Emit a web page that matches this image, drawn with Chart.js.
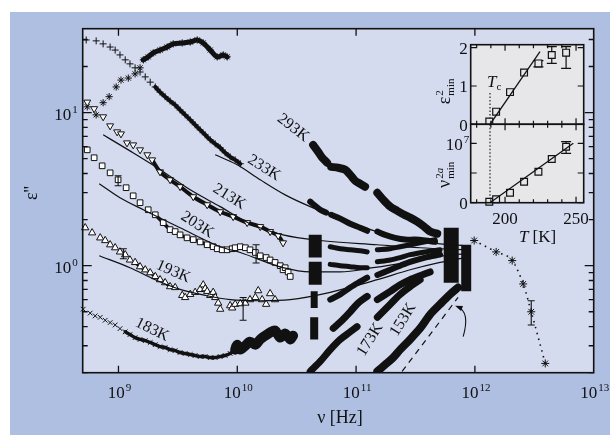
<!DOCTYPE html>
<html>
<head>
<meta charset="utf-8">
<title>dielectric loss spectra</title>
<script src="https://cdn.jsdelivr.net/npm/chart.js@4.4.1/dist/chart.umd.min.js"></script>
<style>
  html, body { margin: 0; padding: 0; background: #fff; }
  #wrap { position: relative; width: 610px; height: 435px; overflow: hidden; }
  #wrap canvas { position: absolute; }
  #mainChart { left: 0; top: 0; }
  #insetTop { left: 420px; top: 36px; }
  #insetBottom { left: 420px; top: 118px; }
</style>
</head>
<body>
<div id="wrap">
  <canvas id="mainChart" width="610" height="435"></canvas>
  <canvas id="insetTop" width="175" height="100"></canvas>
  <canvas id="insetBottom" width="175" height="135"></canvas>
</div>
<script>
// ---------- data (nu in Hz, eps'' dimensionless) ----------

// 183 K, crosses
const nu183 = [5.05e8, 5.78e8, 6.37e8, 7.02e8, 7.73e8, 8.51e8, 9.38e8, 1.03e9, 1.14e9, 1.25e9,
  1.38e9, 1.52e9, 1.68e9, 1.85e9, 2.04e9, 2.24e9, 2.47e9, 2.72e9, 3.0e9, 3.3e9,
  3.64e9, 4.02e9, 4.42e9, 4.87e9, 5.37e9, 5.92e9, 6.52e9, 7.18e9, 7.91e9, 8.71e9,
  9.6e9, 9.98e9, 1.06e10, 1.17e10, 1.28e10, 1.42e10, 1.56e10, 1.72e10, 1.89e10, 2.08e10,
  2.3e10, 2.53e10, 2.79e10, 2.95e10];
const eps183 = [0.52, 0.49, 0.47, 0.46, 0.44, 0.425, 0.41, 0.388, 0.37, 0.355,
  0.339, 0.33, 0.324, 0.315, 0.305, 0.296, 0.292, 0.283, 0.279, 0.271,
  0.267, 0.263, 0.259, 0.255, 0.255, 0.251, 0.251, 0.255, 0.259, 0.267,
  0.283, 0.305, 0.283, 0.301, 0.319, 0.305, 0.33, 0.349, 0.366, 0.377,
  0.339, 0.36, 0.33, 0.349];

// 193 K, up triangles
const nu193 = [5.25e8, 6.0e8, 7.02e8, 7.73e8, 8.51e8, 9.38e8, 1.03e9, 1.14e9, 1.25e9, 1.38e9,
  1.52e9, 1.68e9, 1.85e9, 2.04e9, 2.24e9, 2.47e9, 2.72e9, 3.0e9, 3.44e9, 3.64e9,
  4.02e9, 4.42e9, 4.87e9, 5.17e9, 5.37e9, 5.58e9, 5.92e9, 6.27e9, 6.52e9, 6.91e9,
  7.18e9, 8.71e9, 9.06e9, 9.6e9, 1.06e10, 1.17e10, 1.28e10, 1.42e10, 1.5e10, 1.62e10,
  1.75e10, 1.89e10, 2.08e10];
const eps193 = [1.77, 1.64, 1.52, 1.46, 1.37, 1.31, 1.23, 1.18, 1.09, 1.05,
  0.985, 0.94, 0.90, 0.85, 0.81, 0.775, 0.73, 0.72, 0.64, 0.62,
  0.65, 0.67, 0.70, 0.75, 0.708, 0.68, 0.64, 0.67, 0.62, 0.57,
  0.52, 0.548, 0.53, 0.56, 0.565, 0.57, 0.60, 0.62, 0.687, 0.60,
  0.56, 0.657, 0.60];

// 203 K, squares
const nu203 = [5.46e8, 6.24e8, 7.29e8, 8.51e8, 9.93e8, 1.16e9, 1.33e9, 1.52e9, 1.78e9, 2.04e9,
  2.38e9, 2.72e9, 3.0e9, 3.3e9, 3.78e9, 4.26e9, 4.87e9, 5.58e9, 6.27e9, 6.78e9,
  7.46e9, 8.22e9, 9.06e9, 9.6e9, 1.06e10, 1.17e10, 1.28e10, 1.42e10, 1.56e10, 1.75e10,
  1.89e10, 2.08e10, 2.3e10, 2.43e10, 2.53e10, 2.68e10, 2.79e10];
const eps203 = [5.71, 5.07, 4.49, 4.04, 3.64, 3.23, 2.86, 2.58, 2.32, 2.15,
  1.91, 1.72, 1.67, 1.59, 1.52, 1.48, 1.43, 1.37, 1.33, 1.29,
  1.27, 1.27, 1.29, 1.31, 1.33, 1.31, 1.27, 1.22, 1.16, 1.13,
  1.09, 1.05, 1.0, 0.94, 0.97, 0.91, 0.85];

// 213 K, down triangles
const nu213 = [5.46e8, 6.24e8, 7.43e8, 8.51e8, 9.75e8, 1.05e9, 1.18e9, 1.33e9, 1.52e9, 1.75e9,
  1.92e9, 2.24e9, 2.72e9, 3.3e9, 4.26e9, 5.58e9, 7.18e9, 9.23e9, 1.21e10, 1.56e10,
  1.89e10, 2.21e10, 2.43e10];
const eps213 = [11.7, 10.6, 9.38, 8.19, 7.48, 7.26, 6.34, 6.15, 5.71, 5.30,
  4.91, 4.10, 3.64, 3.28, 2.82, 2.50, 2.25, 2.09, 1.91, 1.80,
  1.67, 1.57, 1.41];

// 233 K, plus signs
const nu233 = [5.35e8, 6.49e8, 7.43e8, 8.51e8, 9.38e8, 1.03e9, 1.14e9, 1.25e9, 1.38e9, 1.52e9,
  1.68e9, 1.85e9, 2.04e9, 2.24e9, 2.47e9, 2.72e9, 3.0e9, 3.3e9, 3.64e9, 4.02e9,
  4.42e9, 4.87e9, 5.37e9, 5.92e9, 6.52e9, 7.18e9, 7.91e9, 8.71e9, 9.6e9, 1.06e10];
const eps233 = [29.8, 29.4, 28.1, 26.8, 25.6, 23.8, 22.1, 20.8, 19.6, 18.4,
  17.1, 15.8, 14.7, 13.6, 12.7, 11.9, 11.2, 10.4, 9.66, 8.96,
  8.32, 7.71, 7.16, 6.64, 6.25, 5.89, 5.46, 5.14, 4.91, 4.63];

// 293 K low-frequency branch, asterisks
const nuStarLow = [5.46e8, 6.49e8, 7.43e8, 8.35e8, 9.57e8, 1.05e9, 1.21e9, 1.38e9, 1.52e9, 1.62e9,
  1.78e9, 1.96e9, 2.24e9, 2.57e9, 2.89e9, 3.44e9, 4.02e9, 4.6e9, 5.17e9, 5.92e9,
  6.78e9, 7.61e9, 8.22e9];
const epsStarLow = [10.9, 9.66, 11.6, 12.7, 14.7, 16.3, 16.8, 17.9, 19.6, 22.1,
  23.1, 24.5, 25.6, 26.8, 28.1, 28.5, 28.9, 29.8, 28.5, 25.6,
  23.1, 23.8, 23.1];

// high-frequency data (dense, drawn as black bands; null = gap between instruments)
const hf293Nu = [4.35e10, 4.8e10, 5.19e10, 5.71e10, null, 6.17e10, 7.07e10, 8.11e10, 8.93e10, 9.85e10,
  1.08e11, 1.19e11, null, 1.51e11, 1.69e11, 1.94e11, 2.22e11, 2.54e11, 2.85e11, 3.27e11,
  3.74e11, 4.2e11, 4.82e11];
const hf293Eps = [6.15, 5.54, 5.07, 4.70, null, 4.42, 4.36, 4.23, 3.92, 3.58,
  3.43, 3.28, null, 2.99, 2.70, 2.43, 2.28, 2.15, 2.06, 1.94,
  1.80, 1.67, 1.62];
const hf233Nu = [4.11e10, 4.53e10, 4.99e10, 5.6e10, null, 6.17e10, 7.36e10, 8.93e10, 1.08e11, 1.24e11,
  null, 1.51e11, 1.76e11, 2.13e11, 2.59e11, 3.14e11, 3.81e11, 4.62e11];
const hf233Eps = [2.62, 2.46, 2.32, 2.22, null, 2.15, 2.03, 1.88, 1.77, 1.69,
  null, 1.67, 1.59, 1.52, 1.48, 1.48, 1.46, 1.43];
const hf213Nu = [6.06e10, 7.36e10, 8.93e10, 1.08e11, 1.24e11, null, 1.51e11, 1.94e11, 2.35e11, 2.85e11, 3.46e11, 4.62e11];
const hf213Eps = [1.33, 1.29, 1.27, 1.25, 1.23, null, 1.27, 1.29, 1.33, 1.37, 1.41, 1.48];
const hf203Nu = [6.06e10, 7.36e10, 8.93e10, 1.08e11, 1.24e11, null, 1.51e11, 1.94e11, 2.35e11, 2.85e11, 3.81e11, 5.09e11];
const hf203Eps = [1.02, 1.0, 0.985, 0.97, 0.97, null, 1.06, 1.09, 1.13, 1.18, 1.23, 1.27];
const hf193Nu = [6.06e10, 7.36e10, 8.93e10, 1.08e11, 1.24e11, null, 1.51e11, 1.94e11, 2.35e11, 2.85e11, 3.81e11, 5.09e11];
const hf193Eps = [0.60, 0.65, 0.72, 0.786, 0.835, null, 0.87, 0.94, 1.0, 1.06, 1.13, 1.18];
const hf183Nu = [6.42e10, 7.64e10, 8.93e10, 1.04e11, 1.24e11, null, 1.51e11, 1.94e11, 2.35e11, 2.85e11, 3.46e11, 4.2e11];
const hf183Eps = [0.39, 0.44, 0.50, 0.57, 0.63, null, 0.60, 0.68, 0.75, 0.81, 0.86, 0.91];
const hf173Nu = [4.11e10, 4.99e10, 6.06e10, 7.36e10, 8.93e10, 1.02e11, null, 1.51e11, 1.94e11, 2.35e11, 2.85e11, 3.46e11];
const hf173Eps = [0.204, 0.237, 0.283, 0.33, 0.37, 0.40, null, 0.46, 0.56, 0.65, 0.73, 0.81];
const hf153Nu = [1.51e11, 1.76e11, 2.05e11, 2.35e11, 2.85e11, 3.46e11, 4.2e11, 5.09e11, 6.18e11, 7.22e11];
const hf153Eps = [0.204, 0.226, 0.251, 0.283, 0.33, 0.39, 0.48, 0.56, 0.65, 0.72];

// clusters where many temperatures overlap at one frequency
const colNu = [4.53e10, 4.53e10, 4.44e10, 4.44e10, 6.32e11, 8.45e11];
const colTop = [1.59, 1.06, 0.68, 0.46, 1.77, 1.37];
const colBottom = [1.13, 0.75, 0.53, 0.33, 0.775, 0.68];

// far-infrared points, asterisks
const nuStarHigh = [9.86e11, 1.51e12, 2.06e12, 2.55e12, 2.98e12, 3.91e12];
const epsStarHigh = [1.46, 1.23, 1.08, 0.76, 0.50, 0.23];

// model fits (solid lines)
const fit233Nu = [6.52e9, 9.98e9, 1.56e10, 2.53e10, 4.11e10, 7.36e10, 1.6e11, 2.85e11, 5.09e11, 8.28e11];
const fit233Eps = [5.30, 4.56, 3.64, 2.90, 2.43, 2.03, 1.64, 1.48, 1.39, 1.35];
const fit213Nu = [7.43e8, 1.25e9, 2.12e9, 4.02e9, 7.18e9, 1.28e10, 2.43e10, 4.99e10, 1.51e11, 3.46e11, 8.28e11];
const fit213Eps = [7.16, 5.62, 4.36, 3.13, 2.43, 1.88, 1.59, 1.46, 1.37, 1.31, 1.27];
const fit203Nu = [6.89e8, 1.03e9, 1.62e9, 3.3e9, 7.18e9, 1.06e10, 2.43e10, 4.11e10, 7.36e10, 1.39e11, 2.85e11, 5.09e11, 8.28e11];
const fit203Eps = [3.43, 2.78, 2.32, 1.77, 1.33, 1.22, 0.97, 0.91, 0.91, 0.97, 1.06, 1.15, 1.20];
const fit193Nu = [6.89e8, 1.25e9, 2.04e9, 3.3e9, 5.37e9, 8.71e9, 1.56e10, 2.79e10, 6.06e10, 1.51e11, 2.85e11, 5.09e11, 8.28e11];
const fit193Eps = [1.16, 0.97, 0.81, 0.70, 0.64, 0.60, 0.59, 0.60, 0.67, 0.81, 0.94, 1.05, 1.13];

// dashed slope line
const dashNu = [2.44e11, 7.22e11];
const dashEps = [0.204, 0.62];

// error bars
const errNu = [9.93e8, 1.1e9, 1.44e10, 1.12e10, 2.98e12];
const errLo = [3.33, 1.11, 1.04, 0.44, 0.41];
const errHi = [3.87, 1.29, 1.37, 0.62, 0.59];

// axis ticks
const xTickVals = [1e9, 1e10, 1e11, 1e12, 1e13];
const xTickExp = ['9', '10', '11', '12', '13'];
const yTickVals = [1, 10];
const yTickExp = ['0', '1'];

// inset: T in K
const insetT = [188.9, 193.7, 203.5, 213.4, 223.5, 232.9, 243.0];
const insetEps2 = [0.07, 0.33, 0.84, 1.35, 1.59, 1.81, 1.87];
const insetNu2a = [1.7e5, 5.7e5, 1.68e6, 3.54e6, 5.22e6, 7.36e6, 9.43e6];
const insetTc = 189.4;
const fitEpsT = [189.4, 224.6];
const fitEpsV = [0, 1.90];
const fitNuT = [189.4, 248.1];
const fitNuV = [0, 1.0e7];
const errEpsT = [223.5, 232.9, 243.0];
const errEpsLo = [1.50, 1.59, 1.46];
const errEpsHi = [1.66, 2.03, 2.03];
const errNuT = [243.0];
const errNuLo = [8.32e6];
const errNuHi = [1.027e7];
const insetTTicks = [180, 190, 200, 210, 220, 230, 240, 250];
const insetTLabels = [200, 250];

// ---------- styling ----------
const INK = '#111111';
const OUTER = '#aebfe1';
const PLOT = '#d4dbef';
const INSET_BG = '#e7e7ea';
const SERIF = '"Liberation Serif", "DejaVu Serif", serif';
const colWidth = [13, 13, 7, 8, 15, 10];

// text annotations placed in data coordinates
const tempLabels = [
  { text: '293K', nu: 2.95e10, eps: 7.95, rot: 38 },
  { text: '233K', nu: 1.68e10, eps: 4.36, rot: 32 },
  { text: '213K', nu: 8.55e9, eps: 2.82, rot: 32 },
  { text: '203K', nu: 4.6e9, eps: 1.85, rot: 33 },
  { text: '193K', nu: 2.89e9, eps: 0.914, rot: 24 },
  { text: '183K', nu: 1.92e9, eps: 0.382, rot: 26 },
  { text: '173K', nu: 1.31e11, eps: 0.329, rot: -58 },
  { text: '153K', nu: 2.49e11, eps: 0.444, rot: -58 }
];
const arrowStart = { nu: 7.97e11, eps: 0.344 };
const arrowCtrl = { nu: 9.12e11, eps: 0.50 };
const arrowEnd = { nu: 6.81e11, eps: 0.548 };

function pts(nu, eps) {
  return nu.map((v, i) => ({ x: v, y: eps[i] }));
}

function marks(nu, eps, style, r, rot) {
  return {
    data: pts(nu, eps), showLine: false, clip: false,
    pointStyle: style, pointRadius: r, pointHoverRadius: r, pointRotation: rot || 0,
    pointBorderColor: INK, pointBackgroundColor: '#ffffff', pointBorderWidth: 1
  };
}

function band(nu, eps, w) {
  return {
    data: pts(nu, eps), showLine: true, spanGaps: false, clip: 0,
    borderColor: INK, borderWidth: w, tension: 0.3,
    borderCapStyle: 'round', borderJoinStyle: 'round',
    pointRadius: 0, pointHoverRadius: 0
  };
}

function curve(nu, eps, w, dash) {
  return {
    data: pts(nu, eps), showLine: true, clip: 0,
    borderColor: INK, borderWidth: w, borderDash: dash || [],
    cubicInterpolationMode: 'monotone',
    pointRadius: 0, pointHoverRadius: 0
  };
}

function drawPower(ctx, base, exp, x, baseline, align) {
  ctx.font = '17px ' + SERIF;
  const wb = ctx.measureText(base).width;
  ctx.font = '11px ' + SERIF;
  const we = ctx.measureText(exp).width;
  const total = wb + 1 + we;
  const left = align === 'center' ? x - total / 2 : (align === 'right' ? x - total : x);
  ctx.textAlign = 'left';
  ctx.textBaseline = 'alphabetic';
  ctx.font = '17px ' + SERIF;
  ctx.fillText(base, left, baseline);
  ctx.font = '11px ' + SERIF;
  ctx.fillText(exp, left + wb + 1, baseline - 7);
}

function errorBars(ctx, xs, ys, xv, lo, hi, cap) {
  ctx.beginPath();
  xv.forEach((v, i) => {
    const px = xs.getPixelForValue(v);
    const p1 = ys.getPixelForValue(lo[i]);
    const p2 = ys.getPixelForValue(hi[i]);
    ctx.moveTo(px, p1); ctx.lineTo(px, p2);
    ctx.moveTo(px - cap, p1); ctx.lineTo(px + cap, p1);
    ctx.moveTo(px - cap, p2); ctx.lineTo(px + cap, p2);
  });
  ctx.stroke();
}

// ---------- main chart ----------
const mainDecor = {
  id: 'mainDecor',
  beforeDraw(chart) {
    const { ctx, chartArea: a } = chart;
    ctx.save();
    ctx.fillStyle = '#ffffff';
    ctx.fillRect(0, 0, chart.width, chart.height);
    ctx.fillStyle = OUTER;
    ctx.fillRect(10, 12, chart.width - 10, chart.height - 12);
    ctx.fillStyle = PLOT;
    ctx.fillRect(a.left, a.top, a.right - a.left, a.bottom - a.top);
    ctx.restore();
  },
  afterDraw(chart) {
    const { ctx, chartArea: a } = chart;
    const xs = chart.scales.x, ys = chart.scales.y;
    ctx.save();
    ctx.strokeStyle = INK;
    ctx.fillStyle = INK;

    // error bars
    ctx.lineWidth = 1.1;
    errorBars(ctx, xs, ys, errNu, errLo, errHi, 3.5);

    // arrow
    const sx = xs.getPixelForValue(arrowStart.nu), sy = ys.getPixelForValue(arrowStart.eps);
    const cx = xs.getPixelForValue(arrowCtrl.nu), cy = ys.getPixelForValue(arrowCtrl.eps);
    const ex = xs.getPixelForValue(arrowEnd.nu), ey = ys.getPixelForValue(arrowEnd.eps);
    ctx.lineWidth = 1.1;
    ctx.beginPath();
    ctx.moveTo(sx, sy);
    ctx.quadraticCurveTo(cx, cy, ex + 3, ey + 1.5);
    ctx.stroke();
    const ang = Math.atan2(ey - cy, ex - cx);
    ctx.beginPath();
    ctx.moveTo(ex, ey);
    ctx.lineTo(ex - 8 * Math.cos(ang - 0.35), ey - 8 * Math.sin(ang - 0.35));
    ctx.lineTo(ex - 8 * Math.cos(ang + 0.35), ey - 8 * Math.sin(ang + 0.35));
    ctx.closePath();
    ctx.fill();

    // frame and inward ticks
    ctx.lineWidth = 1.6;
    ctx.strokeRect(a.left, a.top, a.right - a.left, a.bottom - a.top);
    ctx.lineWidth = 1.3;
    ctx.beginPath();
    xTickVals.forEach(v => {
      const px = xs.getPixelForValue(v);
      if (px > a.right - 1) return;
      ctx.moveTo(px, a.bottom); ctx.lineTo(px, a.bottom - 7);
      ctx.moveTo(px, a.top); ctx.lineTo(px, a.top + 7);
    });
    for (let d = -1; d <= 1; d++) {
      for (let m = 1; m <= 9; m++) {
        const v = m * Math.pow(10, d);
        if (v < ys.min || v > ys.max) continue;
        const py = ys.getPixelForValue(v);
        const len = m === 1 ? 9 : 5;
        ctx.moveTo(a.left, py); ctx.lineTo(a.left + len, py);
        ctx.moveTo(a.right, py); ctx.lineTo(a.right - len, py);
      }
    }
    ctx.stroke();

    // tick labels
    xTickVals.forEach((v, i) => drawPower(ctx, '10', xTickExp[i], xs.getPixelForValue(v) + 1, a.bottom + 25.5, 'center'));
    yTickVals.forEach((v, i) => drawPower(ctx, '10', yTickExp[i], a.left - 5, ys.getPixelForValue(v) + 7, 'right'));

    // axis titles
    ctx.font = '18px ' + SERIF;
    ctx.textAlign = 'center';
    ctx.textBaseline = 'middle';
    ctx.fillText('\u03bd [Hz]', 340, 418);
    ctx.save();
    ctx.translate(32, 193);
    ctx.rotate(-Math.PI / 2);
    ctx.fillText("\u03b5''", 0, 0);
    ctx.restore();

    // temperature labels
    ctx.font = '16px ' + SERIF;
    tempLabels.forEach(l => {
      ctx.save();
      ctx.translate(xs.getPixelForValue(l.nu), ys.getPixelForValue(l.eps));
      ctx.rotate(l.rot * Math.PI / 180);
      ctx.fillText(l.text, 0, 0);
      ctx.restore();
    });
    ctx.restore();
  }
};

const mainSets = [
  // fits and guide lines
  curve(fit233Nu, fit233Eps, 1.2),
  curve(fit213Nu, fit213Eps, 1.2),
  curve(fit203Nu, fit203Eps, 1.2),
  curve(fit193Nu, fit193Eps, 1.2),
  curve(dashNu, dashEps, 1.2, [6, 5]),
  curve(nuStarHigh, epsStarHigh, 1.6, [1.5, 4.5]),
  // symbols
  marks(nuStarHigh, epsStarHigh, 'star', 4),
  marks(nu213, eps213, 'triangle', 4, 180),
  marks(nu203, eps203, 'rect', 4),
  marks(nu193, eps193, 'triangle', 4.2),
  marks(nu183, eps183, 'crossRot', 3.3),
  marks(nu233, eps233, 'cross', 3.5),
  marks(nuStarLow, epsStarLow, 'star', 3.6),
  // dense stretches where symbols merge
  band(nuStarLow.slice(9), epsStarLow.slice(9), 5),
  band(nu233.slice(12), eps233.slice(12), 4),
  band(nu213.slice(10), eps213.slice(10), 4),
  band(nu203.slice(9), eps203.slice(9), 3.5),
  band(nu193.slice(9, 18), eps193.slice(9, 18), 3),
  band(nu183.slice(8, 31), eps183.slice(8, 31), 3.5),
  band(nu183.slice(30), eps183.slice(30), 10),
  // high-frequency data
  band(hf293Nu, hf293Eps, 8),
  band(hf233Nu, hf233Eps, 6),
  band(hf213Nu, hf213Eps, 5),
  band(hf203Nu, hf203Eps, 5),
  band(hf193Nu, hf193Eps, 6),
  band(hf183Nu, hf183Eps, 7),
  band(hf173Nu, hf173Eps, 7),
  band(hf153Nu, hf153Eps, 8)
];
colNu.forEach((v, i) => {
  const d = band([v, v], [colTop[i], colBottom[i]], colWidth[i]);
  d.borderCapStyle = 'butt';
  mainSets.push(d);
});

new Chart(document.getElementById('mainChart'), {
  type: 'scatter',
  data: { datasets: mainSets },
  options: {
    responsive: false,
    animation: false,
    devicePixelRatio: 1,
    events: [],
    layout: { padding: { left: 82.7, top: 28.7, right: 16.3, bottom: 62.3 } },
    plugins: { legend: { display: false }, tooltip: { enabled: false } },
    scales: {
      x: { type: 'logarithmic', min: 5e8, max: 1e13, display: false },
      y: { type: 'logarithmic', min: 0.2, max: 35.3, display: false }
    }
  },
  plugins: [mainDecor]
});

// ---------- inset ----------
function insetDecor(o) {
  return {
    id: 'insetDecor',
    beforeDraw(chart) {
      const { ctx, chartArea: a } = chart;
      ctx.save();
      ctx.fillStyle = INSET_BG;
      ctx.fillRect(a.left, a.top, a.right - a.left, a.bottom - a.top);
      ctx.restore();
    },
    beforeDatasetsDraw(chart) {
      const { ctx, chartArea: a } = chart;
      const xs = chart.scales.x, ys = chart.scales.y;
      ctx.save();
      ctx.strokeStyle = '#222';
      ctx.lineWidth = 1.2;
      ctx.setLineDash([1.5, 2]);
      const tx = xs.getPixelForValue(insetTc);
      ctx.beginPath();
      ctx.moveTo(tx, ys.getPixelForValue(o.tcTop));
      ctx.lineTo(tx, a.bottom);
      ctx.stroke();
      ctx.setLineDash([]);
      ctx.strokeStyle = INK;
      ctx.lineWidth = 1.2;
      errorBars(ctx, xs, ys, o.errX, o.errLo, o.errHi, 5);
      ctx.restore();
    },
    afterDraw(chart) {
      const { ctx, chartArea: a } = chart;
      const xs = chart.scales.x, ys = chart.scales.y;
      ctx.save();
      ctx.strokeStyle = INK;
      ctx.fillStyle = INK;
      ctx.lineWidth = 1.6;
      ctx.strokeRect(a.left, a.top, a.right - a.left, a.bottom - a.top);
      ctx.lineWidth = 1.2;
      ctx.beginPath();
      insetTTicks.forEach(t => {
        const px = xs.getPixelForValue(t);
        const len = insetTLabels.includes(t) ? 6 : 3.5;
        ctx.moveTo(px, a.bottom); ctx.lineTo(px, a.bottom - len);
        ctx.moveTo(px, a.top); ctx.lineTo(px, a.top + len);
      });
      o.yTicks.forEach(v => {
        const py = ys.getPixelForValue(v);
        ctx.moveTo(a.left, py); ctx.lineTo(a.left + 6, py);
        ctx.moveTo(a.right, py); ctx.lineTo(a.right - 6, py);
      });
      ctx.stroke();

      // y tick labels
      o.yLabels.forEach(l => {
        const py = ys.getPixelForValue(l.v) + 6.5;
        if (l.exp) {
          drawPower(ctx, l.text, l.exp, a.left - 1.5, py, 'right');
        } else {
          ctx.font = '17px ' + SERIF;
          ctx.textAlign = 'right';
          ctx.textBaseline = 'alphabetic';
          ctx.fillText(l.text, a.left - 3, py);
        }
      });

      // rotated y title: main symbol with stacked sup/sub
      ctx.save();
      ctx.translate(a.left - 21, ys.getPixelForValue(o.titleAt));
      ctx.rotate(-Math.PI / 2);
      ctx.textAlign = 'left';
      ctx.textBaseline = 'alphabetic';
      ctx.font = '18px ' + SERIF;
      const wm = ctx.measureText(o.title).width;
      ctx.font = '11px ' + SERIF;
      const ws = ctx.measureText(o.sup).width + (o.supItalic ? ctx.measureText(o.supItalic).width : 0);
      const wsub = ctx.measureText('min').width;
      const left = -(wm + 1 + Math.max(ws, wsub)) / 2;
      ctx.font = '18px ' + SERIF;
      ctx.fillText(o.title, left, 0);
      ctx.font = '11px ' + SERIF;
      ctx.fillText(o.sup, left + wm + 1, -7);
      if (o.supItalic) {
        const w2 = ctx.measureText(o.sup).width;
        ctx.font = 'italic 11px ' + SERIF;
        ctx.fillText(o.supItalic, left + wm + 1 + w2, -7);
        ctx.font = '11px ' + SERIF;
      }
      ctx.fillText('min', left + wm + 1, 4);
      ctx.restore();

      if (o.tcLabel) {
        const lx = xs.getPixelForValue(o.tcLabel.t);
        const ly = ys.getPixelForValue(o.tcLabel.v);
        ctx.textAlign = 'left';
        ctx.font = 'italic 17px ' + SERIF;
        ctx.fillText('T', lx, ly);
        const wT = ctx.measureText('T').width;
        ctx.font = '11px ' + SERIF;
        ctx.fillText('c', lx + wT, ly + 3);
      }

      if (o.showX) {
        ctx.font = '17px ' + SERIF;
        ctx.textAlign = 'center';
        insetTLabels.forEach(t => ctx.fillText(String(t), xs.getPixelForValue(t), a.bottom + 21));
        const cx = xs.getPixelForValue(o.xTitleAt);
        ctx.font = 'italic 17px ' + SERIF;
        const wT = ctx.measureText('T').width;
        ctx.font = '17px ' + SERIF;
        const wr = ctx.measureText(' [K]').width;
        const l0 = cx - (wT + wr) / 2;
        ctx.textAlign = 'left';
        ctx.font = 'italic 17px ' + SERIF;
        ctx.fillText('T', l0, a.bottom + 39.5);
        ctx.font = '17px ' + SERIF;
        ctx.fillText(' [K]', l0 + wT, a.bottom + 39.5);
      }
      ctx.restore();
    }
  };
}

function insetChart(id, o) {
  return new Chart(document.getElementById(id), {
    type: 'scatter',
    data: {
      datasets: [
        {
          data: pts(o.fitT, o.fitV), showLine: true, borderColor: INK, borderWidth: 1.3,
          pointRadius: 0, pointHoverRadius: 0, clip: 0
        },
        {
          data: pts(insetT, o.values), showLine: false, pointStyle: 'rect',
          pointRadius: 4.8, pointHoverRadius: 4.8, pointBorderWidth: 1.2,
          pointBorderColor: INK, pointBackgroundColor: INSET_BG, clip: false
        }
      ]
    },
    options: {
      responsive: false,
      animation: false,
      devicePixelRatio: 1,
      events: [],
      layout: { padding: o.padding },
      plugins: { legend: { display: false }, tooltip: { enabled: false } },
      scales: {
        x: { type: 'linear', min: 175.8, max: 255.4, display: false },
        y: { type: 'linear', min: o.yMin, max: o.yMax, display: false }
      }
    },
    plugins: [insetDecor(o)]
  });
}

insetChart('insetTop', {
  values: insetEps2, fitT: fitEpsT, fitV: fitEpsV,
  yMin: 0, yMax: 2.078,
  padding: { left: 50.7, top: 8.7, right: 11.3, bottom: 11.7 },
  yTicks: [0, 1, 2],
  yLabels: [{ v: 0, text: '0' }, { v: 1, text: '1' }, { v: 2, text: '2' }],
  errX: errEpsT, errLo: errEpsLo, errHi: errEpsHi,
  tcTop: 0.82,
  tcLabel: { t: 187.3, v: 0.97 },
  title: '\u03b5', sup: '2', titleAt: 0.86,
  showX: false
});

insetChart('insetBottom', {
  values: insetNu2a, fitT: fitNuT, fitV: fitNuV,
  yMin: 0, yMax: 1.32e7,
  padding: { left: 50.7, top: 6.3, right: 11.3, bottom: 50.3 },
  yTicks: [0, 5e6, 1e7],
  yLabels: [{ v: 0, text: '0' }, { v: 1e7, text: '10', exp: '7' }],
  errX: errNuT, errLo: errNuLo, errHi: errNuHi,
  tcTop: 1.32e7,
  title: '\u03bd', sup: '2', supItalic: 'a', titleAt: 4.7e6,
  showX: true, xTitleAt: 222.9
});
</script>
</body>
</html>
